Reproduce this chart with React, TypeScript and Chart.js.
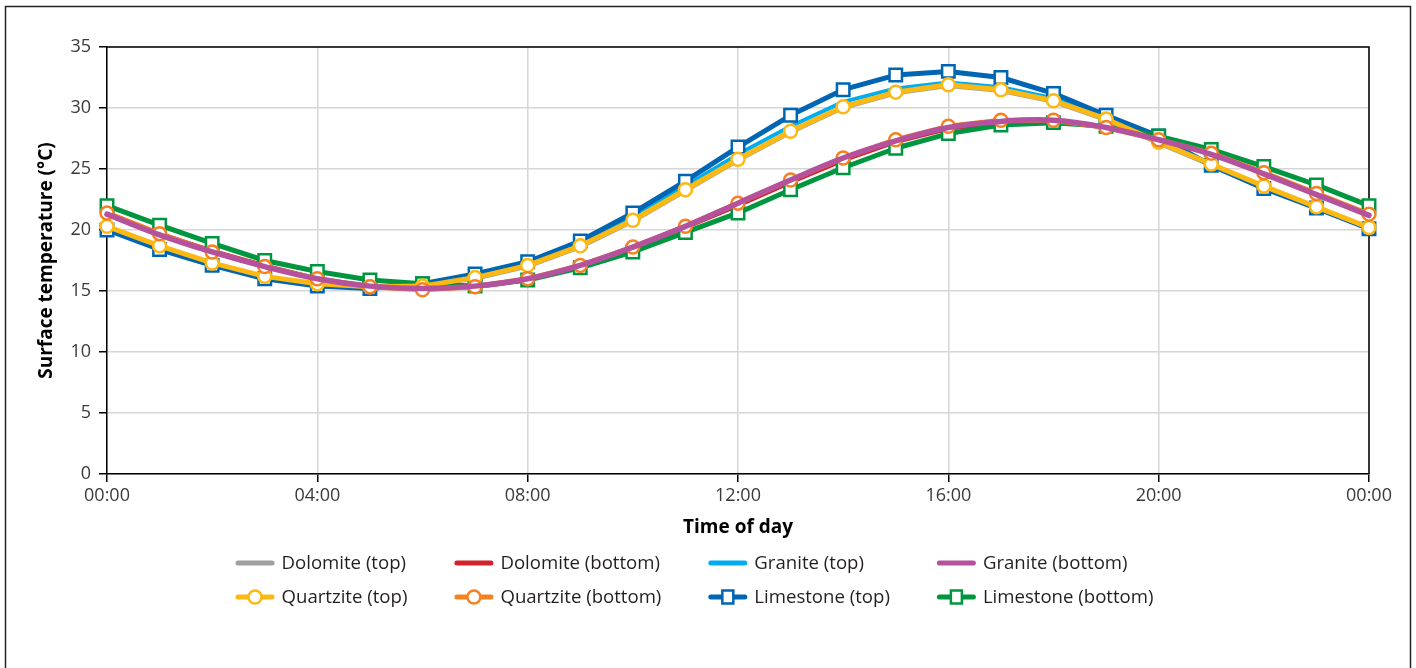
import { useEffect, useRef } from 'react';
import { Chart, registerables } from 'chart.js';

Chart.register(...registerables);

// ---- Data ----
const hours = [0, 1, 2, 3, 4, 5, 6, 7, 8, 9, 10, 11, 12, 13, 14, 15, 16, 17, 18, 19, 20, 21, 22, 23, 24];
const xTickLabels = ['00:00', '04:00', '08:00', '12:00', '16:00', '20:00', '00:00'];

const dolomiteTop = [20.2, 18.6, 17.2, 16.1, 15.5, 15.3, 15.4, 16.0, 17.0, 18.6, 20.7, 23.2, 25.7, 28.0, 30.0, 31.2, 31.8, 31.4, 30.5, 29.0, 27.1, 25.3, 23.5, 21.8, 20.1];
const dolomiteBottom = [21.4, 19.7, 18.3, 17.1, 16.0, 15.4, 15.2, 15.3, 15.9, 17.0, 18.5, 20.2, 22.0, 23.9, 25.7, 27.2, 28.3, 28.8, 28.9, 28.4, 27.5, 26.3, 24.7, 23.0, 21.3];
const graniteTop = [20.1, 18.5, 17.2, 16.1, 15.5, 15.2, 15.4, 16.2, 17.3, 19.0, 21.1, 23.6, 26.2, 28.5, 30.5, 31.6, 32.1, 31.7, 30.8, 29.2, 27.3, 25.3, 23.5, 21.8, 20.1];
const graniteBottom = [21.3, 19.6, 18.2, 17.0, 16.0, 15.4, 15.2, 15.4, 16.0, 17.1, 18.6, 20.3, 22.2, 24.1, 25.9, 27.3, 28.4, 28.9, 29.0, 28.4, 27.4, 26.2, 24.6, 22.9, 21.2];
const quartziteTop = [20.3, 18.7, 17.3, 16.2, 15.6, 15.35, 15.4, 16.1, 17.1, 18.7, 20.8, 23.3, 25.8, 28.1, 30.1, 31.3, 31.9, 31.5, 30.6, 29.1, 27.2, 25.4, 23.6, 21.9, 20.2];
const quartziteBottom = [21.4, 19.7, 18.2, 17.0, 16.0, 15.35, 15.1, 15.35, 16.0, 17.1, 18.6, 20.3, 22.2, 24.1, 25.9, 27.4, 28.5, 29.0, 29.0, 28.4, 27.4, 26.3, 24.7, 23.0, 21.3];
const limestoneTop = [20.0, 18.4, 17.1, 16.0, 15.4, 15.2, 15.6, 16.4, 17.4, 19.1, 21.4, 24.0, 26.8, 29.4, 31.5, 32.7, 33.0, 32.5, 31.2, 29.4, 27.7, 25.3, 23.4, 21.8, 20.1];
const limestoneBottom = [22.0, 20.4, 18.9, 17.5, 16.6, 15.9, 15.6, 15.4, 15.9, 16.9, 18.2, 19.8, 21.4, 23.3, 25.1, 26.7, 27.9, 28.6, 28.8, 28.5, 27.7, 26.6, 25.2, 23.7, 22.0];

const seriesLabels = [
  'Dolomite (top)', 'Dolomite (bottom)', 'Granite (top)', 'Granite (bottom)',
  'Quartzite (top)', 'Quartzite (bottom)', 'Limestone (top)', 'Limestone (bottom)',
];
const seriesValues = [dolomiteTop, dolomiteBottom, graniteTop, graniteBottom, quartziteTop, quartziteBottom, limestoneTop, limestoneBottom];

const yTitle = 'Surface temperature (°C)';
const xTitle = 'Time of day';

// ---- Styles ----
const FONT = '"Open Sans", "DejaVu Sans", sans-serif';
const seriesColors = ['#a0a0a0', '#d2232a', '#00aeef', '#b5529d', '#fdb913', '#f58220', '#0066b3', '#00963f'];
const seriesMarkers = ['none', 'none', 'none', 'none', 'circle', 'circle', 'rect', 'rect'];
const seriesWidths = [4, 4, 4, 5.5, 5, 5, 5, 5];
const seriesTension = [0, 0, 0, 0.4, 0, 0, 0, 0];
const seriesOrder = [7, 6, 5, 0, 2, 1, 4, 3];

function drawMarker(ctx: CanvasRenderingContext2D, kind: string, x: number, y: number, color: string) {
  if (kind === 'none') return;
  ctx.save();
  ctx.fillStyle = '#fff';
  ctx.strokeStyle = color;
  ctx.lineWidth = 2.5;
  ctx.beginPath();
  if (kind === 'circle') {
    ctx.arc(x, y, 6.5, 0, Math.PI * 2);
  } else {
    ctx.rect(x - 5.5, y - 6.5, 11, 13);
  }
  ctx.fill();
  ctx.stroke();
  ctx.restore();
}

export default function App() {
  const ref = useRef<HTMLCanvasElement>(null);

  useEffect(() => {
    const canvas = ref.current;
    if (!canvas) return;

    const datasets = seriesLabels.map((label, i) => {
      const marker = seriesMarkers[i];
      const r = marker === 'circle' ? 6.5 : marker === 'rect' ? 8.8 : 0;
      return {
        label,
        data: hours.map((h, j) => ({ x: h, y: seriesValues[i][j] })),
        borderColor: seriesColors[i],
        backgroundColor: seriesColors[i],
        borderWidth: seriesWidths[i],
        borderJoinStyle: 'round' as const,
        borderCapStyle: 'round' as const,
        tension: seriesTension[i],
        order: seriesOrder[i],
        clip: false as const,
        pointStyle: marker === 'rect' ? 'rect' : 'circle',
        pointRadius: r,
        pointHoverRadius: r,
        pointBackgroundColor: '#ffffff',
        pointBorderColor: seriesColors[i],
        pointBorderWidth: 2.5,
        pointHoverBorderWidth: 2.5,
      };
    });

    const framePlugin = {
      id: 'frame',
      beforeDatasetsDraw(chart: any) {
        const { ctx, chartArea } = chart;
        ctx.save();
        ctx.strokeStyle = '#000';
        ctx.lineWidth = 1.5;
        ctx.beginPath();
        ctx.moveTo(chartArea.left, chartArea.top);
        ctx.lineTo(chartArea.right, chartArea.top);
        ctx.lineTo(chartArea.right, chartArea.bottom);
        ctx.stroke();
        ctx.restore();
      },
      afterDraw(chart: any) {
        const { ctx } = chart;
        ctx.save();
        // outer border
        ctx.strokeStyle = '#222';
        ctx.lineWidth = 1.5;
        ctx.strokeRect(5.5, 6.5, 1405, 720);

        // legend
        ctx.font = `18.6px ${FONT}`;
        ctx.textBaseline = 'middle';
        ctx.textAlign = 'left';
        const cols = 4;
        const sampleW = 39;
        const textGap = 7;
        const colGap = 47;
        const colWidths: number[] = [];
        for (let c = 0; c < cols; c++) {
          let m = 0;
          for (let i = c; i < seriesLabels.length; i += cols) {
            m = Math.max(m, ctx.measureText(seriesLabels[i]).width);
          }
          colWidths.push(sampleW + textGap + m);
        }
        const total = colWidths.reduce((a, b) => a + b, 0) + colGap * (cols - 1);
        const startX = 694.5 - total / 2;
        const rowY = [563, 597];
        seriesLabels.forEach((label, i) => {
          const c = i % cols;
          const r = Math.floor(i / cols);
          let x = startX;
          for (let k = 0; k < c; k++) x += colWidths[k] + colGap;
          const y = rowY[r];
          ctx.strokeStyle = seriesColors[i];
          ctx.lineWidth = 5;
          ctx.lineCap = 'round';
          ctx.beginPath();
          ctx.moveTo(x + 2.5, y);
          ctx.lineTo(x + sampleW - 2.5, y);
          ctx.stroke();
          drawMarker(ctx, seriesMarkers[i], x + sampleW / 2, y, seriesColors[i]);
          ctx.fillStyle = '#231f20';
          ctx.fillText(label, x + sampleW + textGap, y + 1);
        });
        ctx.restore();
      },
    };

    const chart = new Chart(canvas, {
      type: 'line',
      data: { datasets },
      options: {
        responsive: false,
        animation: false,
        devicePixelRatio: 1,
        layout: { padding: { left: 30, top: 47, right: 47, bottom: 124 } },
        plugins: {
          legend: { display: false },
          tooltip: { enabled: false },
        },
        scales: {
          x: {
            type: 'linear',
            min: 0,
            max: 24,
            afterFit: (scale: any) => { scale.height = 70; },
            ticks: {
              stepSize: 4,
              padding: 3,
              color: '#3a3a3a',
              font: { family: FONT, size: 18 },
              maxRotation: 0,
              callback: (v: any) => xTickLabels[Math.round(Number(v) / 4)] ?? '',
            },
            grid: {
              color: '#d6d6d6',
              lineWidth: 1.5,
              tickColor: '#000',
              tickLength: 8,
              tickWidth: 1.5,
            },
            border: { color: '#000', width: 1.5 },
            title: {
              display: true,
              text: xTitle,
              color: '#000',
              font: { family: FONT, size: 19, weight: 'bold' },
              padding: { top: 0, bottom: 5 },
            },
          },
          y: {
            type: 'linear',
            min: 0,
            max: 35,
            afterFit: (scale: any) => { scale.width = 77; },
            ticks: {
              stepSize: 5,
              padding: 8,
              color: '#3a3a3a',
              font: { family: FONT, size: 18 },
            },
            grid: {
              color: '#d6d6d6',
              lineWidth: 1.5,
              tickColor: '#000',
              tickLength: 8,
              tickWidth: 1.5,
            },
            border: { color: '#000', width: 1.5 },
            title: {
              display: true,
              text: yTitle,
              color: '#000',
              font: { family: FONT, size: 19, weight: 'bold' },
              padding: { top: 5, bottom: 0 },
            },
          },
        },
      } as any,
      plugins: [framePlugin],
    });

    return () => chart.destroy();
  }, []);

  return (
    <canvas
      ref={ref}
      width={1416}
      height={668}
      style={{ position: 'absolute', left: 0, top: 0, width: 1416, height: 668, display: 'block' }}
    />
  );
}
